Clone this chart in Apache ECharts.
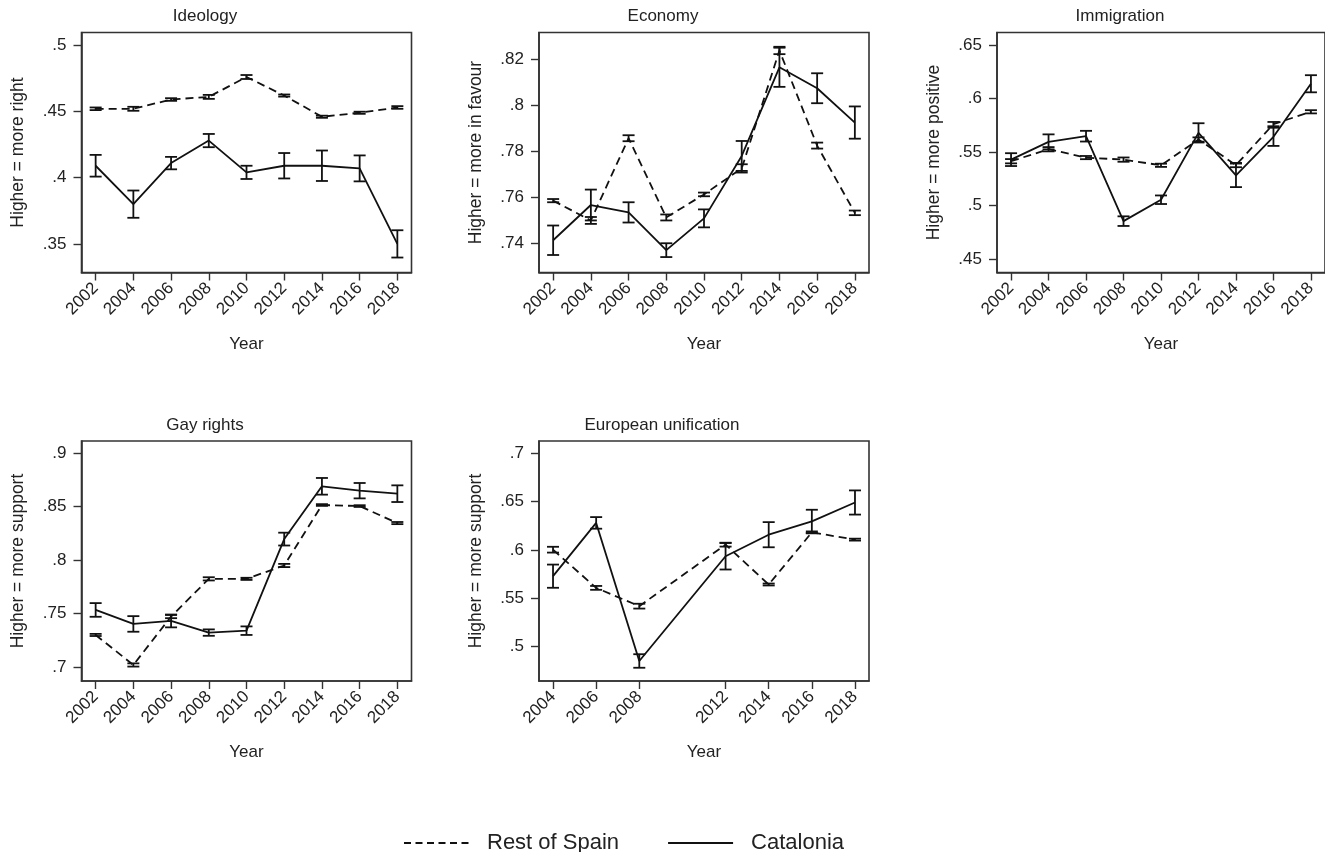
<!DOCTYPE html>
<html><head><meta charset="utf-8">
<script src="https://cdn.jsdelivr.net/npm/echarts@6/dist/echarts.min.js"></script>
<style>html,body{margin:0;padding:0;background:#fff}#c{width:1325px;height:852px}</style>
</head><body><div id="c"></div>
<script>
// ---------- data ----------
const seriesNames = ['Rest of Spain', 'Catalonia'];
const panelTitles = ['Ideology', 'Economy', 'Immigration', 'Gay rights', 'European unification'];
const yAxisNames = ['Higher = more right', 'Higher = more in favour', 'Higher = more positive', 'Higher = more support', 'Higher = more support'];
const xAxisName = 'Year';

const years = [2002, 2004, 2006, 2008, 2010, 2012, 2014, 2016, 2018];
const euYears = [2004, 2006, 2008, 2012, 2014, 2016, 2018];

// mean and CI half-width
const ideologyRest = [0.452, 0.452, 0.459, 0.461, 0.476, 0.462, 0.446, 0.449, 0.453];
const ideologyRestErr = [0.001, 0.0015, 0.001, 0.0015, 0.0015, 0.0008, 0.0008, 0.0008, 0.001];
const ideologyCat = [0.409, 0.380, 0.411, 0.428, 0.404, 0.409, 0.409, 0.407, 0.350];
const ideologyCatErr = [0.0082, 0.0103, 0.0047, 0.005, 0.005, 0.0096, 0.0115, 0.0098, 0.0103];

const economyRest = [0.7586, 0.7500, 0.7857, 0.7513, 0.7613, 0.7726, 0.8238, 0.7825, 0.7533];
const economyRestErr = [0.0007, 0.0015, 0.0013, 0.0013, 0.0008, 0.0018, 0.0016, 0.0013, 0.001];
const economyCat = [0.7414, 0.7567, 0.7535, 0.7371, 0.7509, 0.7780, 0.8165, 0.8074, 0.7925];
const economyCatErr = [0.0064, 0.0067, 0.0044, 0.003, 0.0039, 0.0065, 0.0085, 0.0065, 0.007];

const immigrationRest = [0.5416, 0.5528, 0.5450, 0.5431, 0.5378, 0.5619, 0.5380, 0.5763, 0.5878];
const immigrationRestErr = [0.002, 0.002, 0.0015, 0.002, 0.0015, 0.002, 0.002, 0.002, 0.0015];
const immigrationCat = [0.5431, 0.5597, 0.5650, 0.4856, 0.5056, 0.5681, 0.5284, 0.5644, 0.6140];
const immigrationCatErr = [0.006, 0.007, 0.005, 0.0045, 0.004, 0.009, 0.011, 0.0085, 0.008];

const gayRest = [0.730, 0.7019, 0.7472, 0.7825, 0.7825, 0.795, 0.8516, 0.8506, 0.8347];
const gayRestErr = [0.001, 0.0015, 0.0015, 0.0015, 0.001, 0.0015, 0.0008, 0.0008, 0.001];
const gayCat = [0.7534, 0.7403, 0.7431, 0.7322, 0.734, 0.8197, 0.8691, 0.865, 0.8622];
const gayCatErr = [0.0064, 0.0073, 0.006, 0.003, 0.004, 0.006, 0.0078, 0.0072, 0.0078];

const euRest = [0.6003, 0.5608, 0.5419, 0.6055, 0.5643, 0.6182, 0.6107];
const euRestErr = [0.003, 0.002, 0.0025, 0.002, 0.001, 0.001, 0.001];
const euCat = [0.5729, 0.6280, 0.4852, 0.5935, 0.6158, 0.6296, 0.6491];
const euCatErr = [0.012, 0.006, 0.007, 0.0137, 0.013, 0.012, 0.0125];

const yTicksIdeology = [0.35, 0.4, 0.45, 0.5];
const yTicksEconomy = [0.74, 0.76, 0.78, 0.8, 0.82];
const yTicksImmigration = [0.45, 0.5, 0.55, 0.6, 0.65];
const yTicksGay = [0.7, 0.75, 0.8, 0.85, 0.9];
const yTicksEu = [0.5, 0.55, 0.6, 0.65, 0.7];

// ---------- layout ----------
const FONT = '"Liberation Sans", Arial, Helvetica, sans-serif';
const TXT = '#222';
const LINE = '#111';
const panels = [
  { x: years, rest: ideologyRest, restErr: ideologyRestErr, cat: ideologyCat, catErr: ideologyCatErr, yt: yTicksIdeology,
    grid: { left: 81.5, top: 32.5, width: 330, height: 240 }, xr: [2001.25, 2018.75], yr: [0.3284, 0.5096], tc: 205, tt: 8 },
  { x: years, rest: economyRest, restErr: economyRestErr, cat: economyCat, catErr: economyCatErr, yt: yTicksEconomy,
    grid: { left: 539, top: 32.5, width: 330, height: 240 }, xr: [2001.25, 2018.75], yr: [0.7274, 0.8316], tc: 663, tt: 8 },
  { x: years, rest: immigrationRest, restErr: immigrationRestErr, cat: immigrationCat, catErr: immigrationCatErr, yt: yTicksImmigration,
    grid: { left: 997, top: 32.5, width: 330, height: 240 }, xr: [2001.25, 2018.75], yr: [0.4376, 0.6619], tc: 1120, tt: 8 },
  { x: years, rest: gayRest, restErr: gayRestErr, cat: gayCat, catErr: gayCatErr, yt: yTicksGay,
    grid: { left: 81.5, top: 441, width: 330, height: 240 }, xr: [2001.25, 2018.75], yr: [0.6869, 0.9115], tc: 205, tt: 417 },
  { x: euYears, rest: euRest, restErr: euRestErr, cat: euCat, catErr: euCatErr, yt: yTicksEu,
    grid: { left: 539, top: 441, width: 330, height: 240 }, xr: [2003.35, 2018.65], yr: [0.4645, 0.7127], tc: 662, tt: 417 }
];

const fmt = v => String(+v.toFixed(4)).replace(/^0\./, '.');

function renderErr(params, api) {
  const x = api.value(0), lo = api.value(1), hi = api.value(2);
  const a = api.coord([x, lo]), b = api.coord([x, hi]);
  const w = 6;
  const style = { stroke: LINE, lineWidth: 1.8, fill: null };
  return { type: 'group', children: [
    { type: 'line', shape: { x1: a[0], y1: a[1], x2: b[0], y2: b[1] }, style },
    { type: 'line', shape: { x1: a[0] - w, y1: a[1], x2: a[0] + w, y2: a[1] }, style },
    { type: 'line', shape: { x1: b[0] - w, y1: b[1], x2: b[0] + w, y2: b[1] }, style }
  ]};
}

const grid = [], xAxis = [], yAxis = [], series = [], title = [];
panels.forEach((p, i) => {
  grid.push(Object.assign({ show: true, borderColor: '#333', borderWidth: 1.6, backgroundColor: '#fff' }, p.grid));
  title.push({ text: panelTitles[i], left: p.tc, top: p.tt, textAlign: 'center', padding: 0,
    textStyle: { fontFamily: FONT, fontSize: 17, fontWeight: 'normal', color: TXT } });
  xAxis.push({ type: 'value', gridIndex: i, min: p.xr[0], max: p.xr[1],
    name: xAxisName, nameLocation: 'middle', nameGap: 63,
    nameTextStyle: { fontFamily: FONT, fontSize: 17, color: TXT },
    axisLine: { show: true, onZero: false, lineStyle: { color: '#333', width: 1.6 } },
    axisTick: { show: true, length: 8, customValues: p.x, lineStyle: { color: '#333', width: 1.4 } },
    axisLabel: { customValues: p.x, rotate: 45, margin: 13, fontFamily: FONT, fontSize: 17, color: TXT, formatter: v => String(v) },
    splitLine: { show: false } });
  yAxis.push({ type: 'value', gridIndex: i, min: p.yr[0], max: p.yr[1],
    name: yAxisNames[i], nameLocation: 'middle', nameGap: 54, nameRotate: 90,
    nameTextStyle: { fontFamily: FONT, fontSize: 17.5, color: TXT },
    axisLine: { show: true, onZero: false, lineStyle: { color: '#333', width: 1.6 } },
    axisTick: { show: true, length: 8, customValues: p.yt, lineStyle: { color: '#333', width: 1.4 } },
    axisLabel: { customValues: p.yt, margin: 15, fontFamily: FONT, fontSize: 17, color: TXT, formatter: fmt },
    splitLine: { show: false } });
  const mk = (vals) => p.x.map((y, k) => [y, vals[k]]);
  const mkErr = (vals, err) => p.x.map((y, k) => [y, vals[k] - err[k], vals[k] + err[k]]);
  series.push({ name: seriesNames[0], type: 'line', xAxisIndex: i, yAxisIndex: i, data: mk(p.rest),
    symbol: 'none', lineStyle: { color: LINE, width: 1.8, type: [8, 5] }, itemStyle: { color: LINE }, z: 3 });
  series.push({ name: seriesNames[1], type: 'line', xAxisIndex: i, yAxisIndex: i, data: mk(p.cat),
    symbol: 'none', lineStyle: { color: LINE, width: 1.8, type: 'solid' }, itemStyle: { color: LINE }, z: 3 });
  series.push({ type: 'custom', xAxisIndex: i, yAxisIndex: i, data: mkErr(p.rest, p.restErr),
    renderItem: renderErr, encode: { x: 0, y: [1, 2] }, z: 4, silent: true });
  series.push({ type: 'custom', xAxisIndex: i, yAxisIndex: i, data: mkErr(p.cat, p.catErr),
    renderItem: renderErr, encode: { x: 0, y: [1, 2] }, z: 4, silent: true });
});

const chart = echarts.init(document.getElementById('c'), null, { renderer: 'canvas' });
chart.setOption({
  animation: false,
  backgroundColor: '#fff',
  title, grid, xAxis, yAxis, series,
  legend: {
    data: [
      { name: seriesNames[0], lineStyle: { type: [7, 4.5] } },
      { name: seriesNames[1] }
    ],
    left: 403, top: 832, orient: 'horizontal',
    itemWidth: 65, itemHeight: 14, itemGap: 48, padding: 0,
    itemStyle: { color: 'rgba(0,0,0,0)', borderWidth: 0 },
    lineStyle: { width: 2 },
    textStyle: { fontFamily: FONT, fontSize: 22, color: TXT, padding: [0, 0, 0, 13] },
    selectedMode: false
  }
});
</script>
</body></html>
